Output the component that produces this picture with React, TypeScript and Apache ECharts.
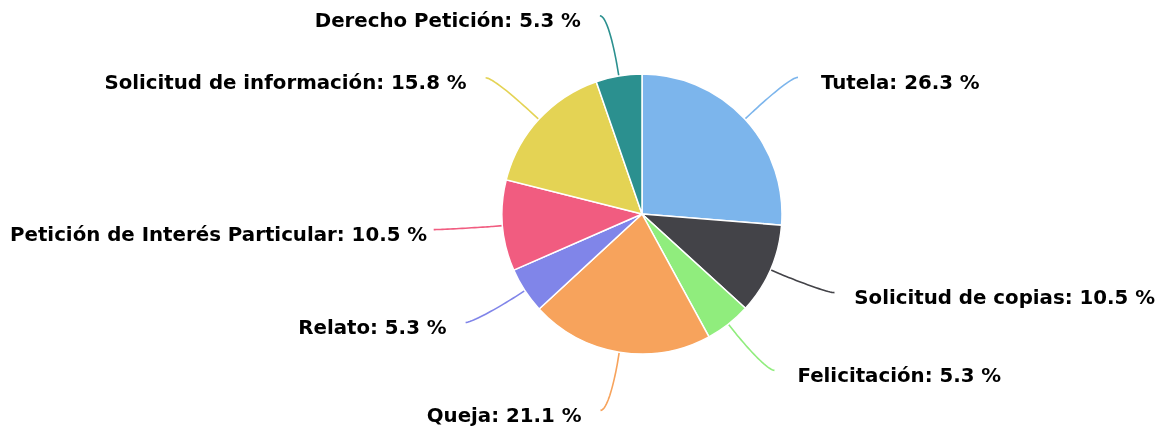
import React, { useEffect, useRef } from "react";
import * as echarts from "echarts";

const categories = [
  "Tutela",
  "Solicitud de copias",
  "Felicitación",
  "Queja",
  "Relato",
  "Petición de Interés Particular",
  "Solicitud de información",
  "Derecho Petición",
];
const percentages = [26.3, 10.5, 5.3, 21.1, 5.3, 10.5, 15.8, 5.3];
const colors = ["#7cb5ec", "#434348", "#90ed7d", "#f7a35c", "#8085e9", "#f15c80", "#e4d354", "#2b908f"];

const WIDTH = 1165;
const HEIGHT = 430;
const CX = 642;
const CY = 214;
const R = 140;
const LABEL_R = 200;
const PAD = 9;
const GAP_RIGHT = 23;
const GAP_LEFT = 19;
const BREAK = 10;
const EDGE = 10;

export default function App() {
  const ref = useRef<HTMLDivElement>(null);
  useEffect(() => {
    const chart = echarts.init(ref.current!, null, { renderer: "svg" });
    const total = percentages.reduce((a, b) => a + b, 0);
    const mids: number[] = [];
    let acc = 0;
    percentages.forEach((v) => {
      mids.push(((acc + v / 2) / total) * 2 * Math.PI);
      acc += v;
    });
    chart.setOption({
      animation: false,
      color: colors,
      series: [
        {
          type: "pie",
          center: [CX, CY],
          radius: [0, R],
          startAngle: 90,
          clockwise: true,
          avoidLabelOverlap: false,
          itemStyle: { borderColor: "#ffffff", borderWidth: 1.5 },
          label: {
            show: true,
            formatter: (p: any) => `${p.name}: ${Number(p.value).toFixed(1)} %`,
            fontFamily: "DejaVu Sans",
            fontWeight: "bold",
            fontSize: 19.8,
            color: "#000000",
          },
          labelLine: { show: true, lineStyle: { width: 1.6 } },
          emphasis: { disabled: true },
          labelLayout: (params: any) => {
            const th = mids[params.dataIndex];
            const s = Math.sin(th);
            const c = Math.cos(th);
            const right = s >= 0;
            const ey = CY - LABEL_R * c - 1;
            const ty = ey + 5;
            const ex = CX + (right ? 1 : -1) * (LABEL_R * Math.abs(s) + PAD);
            const touch = [CX + R * s, CY - R * c];
            const brk = [CX + (R + BREAK) * s, CY - (R + BREAK) * c];
            const c1 = [ex + (right ? -8 : 8), ey];
            const c2 = [2 * brk[0] - touch[0], 2 * brk[1] - touch[1]];
            const pts: number[][] = [];
            for (let i = 0; i <= 24; i++) {
              const t = i / 24;
              const u = 1 - t;
              const a = u * u * u, b = 3 * u * u * t, d = 3 * u * t * t, e = t * t * t;
              pts.push([
                a * ex + b * c1[0] + d * c2[0] + e * brk[0],
                a * ey + b * c1[1] + d * c2[1] + e * brk[1],
              ]);
            }
            pts.push(touch);
            const w = params.labelRect ? params.labelRect.width : 0;
            let tx = right ? ex + GAP_RIGHT : ex - GAP_LEFT;
            if (right && tx + w > WIDTH - EDGE) tx = WIDTH - EDGE - w;
            if (!right && tx - w < EDGE) tx = EDGE + w;
            return {
              x: tx,
              y: ty,
              align: right ? "left" : "right",
              verticalAlign: "middle",
              labelLinePoints: pts,
            };
          },
          data: categories.map((n, i) => ({ name: n, value: percentages[i] })),
        },
      ],
    });
    return () => chart.dispose();
  }, []);
  return <div ref={ref} style={{ position: "fixed", left: 0, top: 0, width: WIDTH, height: HEIGHT }} />;
}
